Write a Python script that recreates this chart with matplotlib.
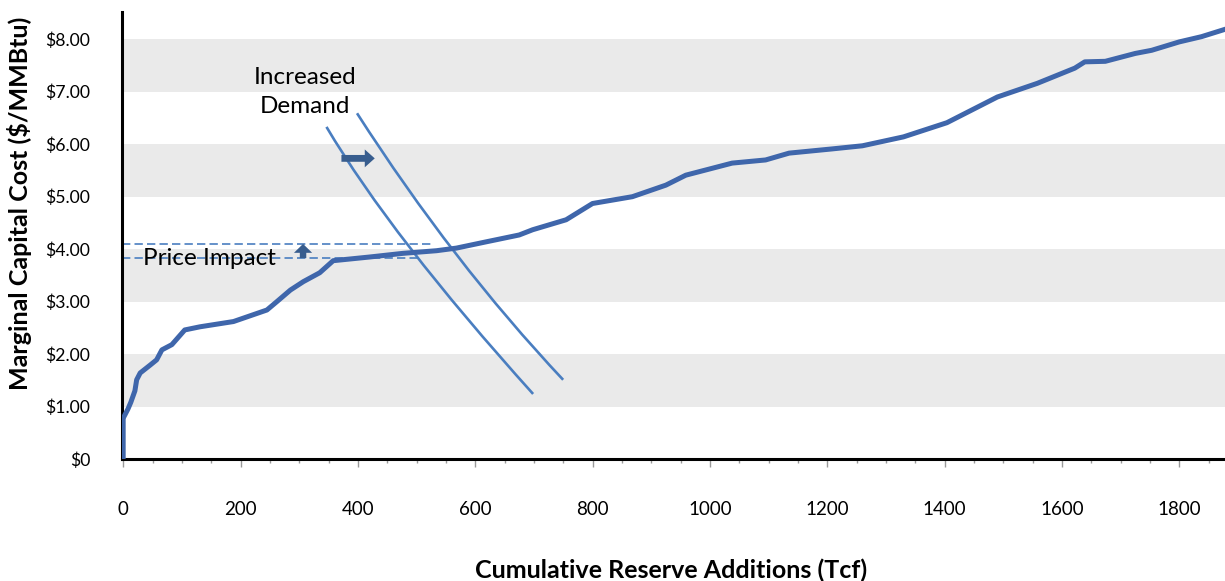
import numpy as np
import matplotlib
matplotlib.use("Agg")
import matplotlib.pyplot as plt
from matplotlib.path import Path
from matplotlib.patches import PathPatch

plt.rcParams['font.family'] = ['Lato', 'DejaVu Sans']

# supply curve: cumulative reserve additions (Tcf) vs marginal cost ($/MMBtu)
reserves = [0, 0, 2, 8, 13, 20, 23, 29, 46, 57, 66, 83, 105, 131, 188, 245, 262, 285,
            307, 335, 358, 420, 477, 534, 568, 619, 675, 698, 755, 800, 868, 925, 959,
            1038, 1095, 1135, 1208, 1260, 1330, 1404, 1490, 1558, 1622, 1639, 1674,
            1725, 1753, 1800, 1838, 1878]
cost = [0, 0.78, 0.82, 0.95, 1.08, 1.30, 1.51, 1.64, 1.79, 1.89, 2.08, 2.18, 2.46, 2.52,
        2.62, 2.84, 3.00, 3.22, 3.38, 3.55, 3.78, 3.85, 3.92, 3.97, 4.02, 4.14, 4.27,
        4.37, 4.56, 4.87, 5.00, 5.22, 5.41, 5.64, 5.70, 5.83, 5.91, 5.97, 6.14, 6.41,
        6.90, 7.16, 7.45, 7.57, 7.58, 7.73, 7.79, 7.95, 8.05, 8.19]

# demand curves (start, control, end) drawn as quadratic curves
demand1 = [(346.5, 6.33), (456.8, 4.24), (698.7, 1.24)]
demand2 = [(398.6, 6.59), (561.3, 3.75), (749.9, 1.51)]

# equilibrium prices
price_old = 3.83
price_new = 4.09

x_ticks = [0, 200, 400, 600, 800, 1000, 1200, 1400, 1600, 1800]
y_ticks = [0, 1, 2, 3, 4, 5, 6, 7, 8]
y_labels = ['$0', '$1.00', '$2.00', '$3.00', '$4.00', '$5.00', '$6.00', '$7.00', '$8.00']

curve_color = '#3F66AB'
demand_color = '#4A7EC0'
arrow_color = '#385D8E'

fig = plt.figure(figsize=(12.25, 5.81), dpi=100)
ax = fig.add_axes([122 / 1225, 1 - 459 / 581, 1 - 122 / 1225, (459 - 12) / 581])
ax.set_xlim(-2, 1878)
ax.set_ylim(0, 8.52)

# alternating bands
for lo in [1, 3, 5, 7]:
    ax.axhspan(lo, lo + 1, color='#EAEAEA', zorder=0, lw=0)

ax.plot(reserves, cost, color=curve_color, lw=3.6, zorder=4)

for pts in [demand1, demand2]:
    path = Path(pts, [Path.MOVETO, Path.CURVE3, Path.CURVE3])
    ax.add_patch(PathPatch(path, facecolor='none', edgecolor=demand_color, lw=1.9,
                           zorder=3))

ax.plot([-2, 500], [price_old, price_old], color=demand_color, lw=1.2,
        dashes=(5, 2.5), zorder=2)
ax.plot([-2, 525.5], [price_new, price_new], color=demand_color, lw=1.2,
        dashes=(5, 2.5), zorder=2)

# shift arrow and price arrow
ax.arrow(372, 5.73, 56.8, 0, width=0.13, head_width=0.34, head_length=17,
         length_includes_head=True, color=arrow_color, lw=0, zorder=5)
ax.arrow(306.6, 3.83, 0, 0.27, width=11, head_width=31, head_length=0.17,
         length_includes_head=True, color=arrow_color, lw=0, zorder=5)

ax.text(309.5, 7.0, 'Increased\nDemand', ha='center', va='center', fontsize=17.5,
        linespacing=1.45, zorder=6)
ax.text(147.5, 3.83, 'Price Impact', ha='center', va='center', fontsize=17.5, zorder=6)

for side in ['top', 'right']:
    ax.spines[side].set_visible(False)
for side in ['left', 'bottom']:
    ax.spines[side].set_linewidth(2.2)
    ax.spines[side].set_color('black')

ax.set_xticks(x_ticks)
ax.set_xticklabels([str(v) for v in x_ticks], fontsize=13.5)
ax.set_xticks(np.arange(0, 1878, 50), minor=True)
ax.tick_params(axis='x', which='major', length=6, width=1, color='#999999', pad=24)
ax.tick_params(axis='x', which='minor', length=3, width=1, color='#999999')

ax.set_yticks(y_ticks)
ax.set_yticklabels(y_labels, fontsize=12.7)
ax.tick_params(axis='y', which='major', length=0, pad=23)

fig.text(20 / 1225, 1 - 203 / 581, 'Marginal Capital Cost ($/MMBtu)', rotation=90,
         ha='center', va='center', fontsize=18, fontweight='bold')
fig.text(671 / 1225, 1 - 570 / 581, 'Cumulative Reserve Additions (Tcf)',
         ha='center', va='center', fontsize=18, fontweight='bold')

fig.savefig('out.png', dpi=100)
